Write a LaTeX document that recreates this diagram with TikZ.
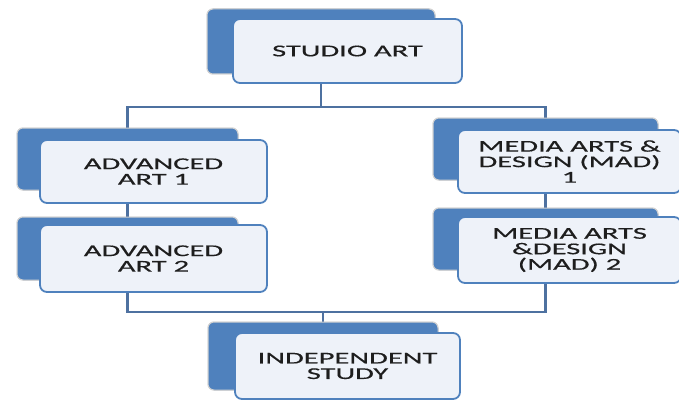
\documentclass[tikz,border=0pt]{standalone}
\usepackage{fontspec}
\newfontfamily\boxfont[FakeStretch=1.85,FakeBold=0.5]{Carlito}
\definecolor{backblue}{RGB}{79,129,189}
\definecolor{frontfill}{RGB}{238,242,249}
\definecolor{connblue}{RGB}{78,113,160}
\definecolor{txt}{RGB}{30,30,30}
\tikzset{
  backbox/.style={draw=black!18, line width=1pt, fill=backblue, rounded corners=6pt, inner sep=0pt},
  frontbox/.style={draw=backblue, line width=1.8pt, fill=frontfill, rounded corners=7pt, inner sep=0pt,
    align=center, text=txt, font=\boxfont\fontsize{16.5}{15.5}\selectfont},
  conn/.style={draw=connblue, line width=2.6pt}
}
\begin{document}
\begin{tikzpicture}[x=1pt,y=-1pt]
\useasboundingbox (0,0) rectangle (679,401);
% back boxes (for connector anchors)
\node[backbox, minimum width=228pt, minimum height=65pt] (sab) at (321,41.5) {};
\node[backbox, minimum width=221pt, minimum height=62pt] (aa1b) at (127.5,159) {};
\node[backbox, minimum width=221pt, minimum height=63pt] (aa2b) at (127.5,248.5) {};
\node[backbox, minimum width=225pt, minimum height=62pt] (mad1b) at (545.5,149) {};
\node[backbox, minimum width=225pt, minimum height=62pt] (mad2b) at (545.5,239) {};
\node[backbox, minimum width=230pt, minimum height=68pt] (isb) at (323,356) {};
% connectors
\coordinate (jt) at (321,107);
\coordinate (jb) at (323,312);
\draw[conn] (sab.center) -- (jt);
\draw[conn] (aa1b.center) |- (jt) -| (mad1b.center);
\draw[conn] (aa1b.center) -- (aa2b.center);
\draw[conn] (mad1b.center) -- (mad2b.center);
\draw[conn] (aa2b.center) |- (jb) -| (mad2b.center);
\draw[conn] (jb) -- (isb.center);
% redraw back boxes over connectors
\node[backbox, minimum width=228pt, minimum height=65pt] at (321,41.5) {};
\node[backbox, minimum width=221pt, minimum height=62pt] at (127.5,159) {};
\node[backbox, minimum width=221pt, minimum height=63pt] at (127.5,248.5) {};
\node[backbox, minimum width=225pt, minimum height=62pt] at (545.5,149) {};
\node[backbox, minimum width=225pt, minimum height=62pt] at (545.5,239) {};
\node[backbox, minimum width=230pt, minimum height=68pt] at (323,356) {};
% front boxes
\node[frontbox, minimum width=229pt, minimum height=64pt] (saf) at (347.5,51) {STUDIO ART};
\node[frontbox, minimum width=227pt, minimum height=63pt] (aa1f) at (153.5,171.5) {ADVANCED\\ART 1};
\node[frontbox, minimum width=227pt, minimum height=67pt] (aa2f) at (153.5,258.5) {ADVANCED\\ART 2};
\node[frontbox, minimum width=223pt, minimum height=63pt] (mad1f) at (569.5,161.5) {MEDIA ARTS \&\\DESIGN (MAD)\\1};
\node[frontbox, minimum width=223pt, minimum height=66pt] (mad2f) at (569.5,250) {MEDIA ARTS\\\&DESIGN\\(MAD) 2};
\node[frontbox, minimum width=225pt, minimum height=66pt] (isf) at (347.5,366) {INDEPENDENT\\STUDY};
\end{tikzpicture}
\end{document}
